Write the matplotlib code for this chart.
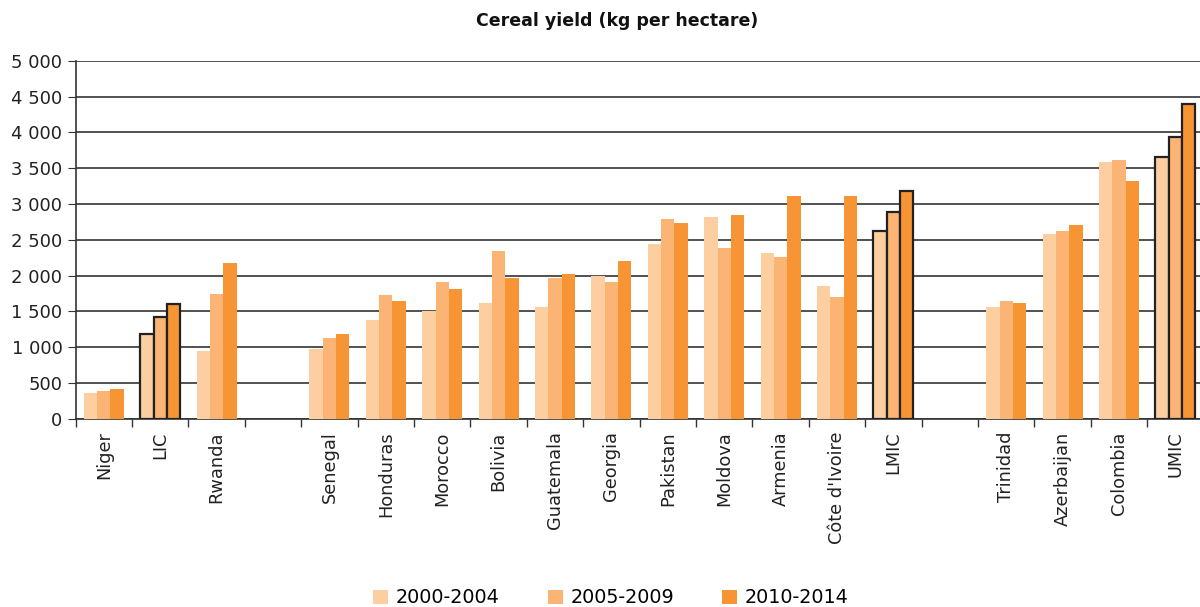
import matplotlib.pyplot as plt
from matplotlib.ticker import FuncFormatter
import numpy as np

# categories ("" = empty slot between the groups)
pays = ["Niger", "LIC", "Rwanda", "",
        "Senegal", "Honduras", "Morocco", "Bolivia", "Guatemala", "Georgia",
        "Pakistan", "Moldova", "Armenia", "Côte d'Ivoire", "LMIC", "",
        "Trinidad", "Azerbaijan", "Colombia", "UMIC"]
periodes = ["2000-2004", "2005-2009", "2010-2014"]

v_2000 = [360, 1183, 945, np.nan,
          978, 1383, 1508, 1620, 1564, 1997,
          2444, 2821, 2318, 1857, 2616, np.nan,
          1560, 2584, 3585, 3659]
v_2005 = [390, 1420, 1736, np.nan,
          1122, 1732, 1913, 2346, 1969, 1913,
          2793, 2388, 2263, 1704, 2891, np.nan,
          1644, 2616, 3608, 3939]
v_2010 = [415, 1602, 2174, np.nan,
          1178, 1648, 1816, 1969, 2025, 2207,
          2737, 2849, 3115, 3115, 3175, np.nan,
          1616, 2700, 3320, 4399]

groupes = ["LIC", "LMIC", "UMIC"]
couleurs = ["#fdcfa0", "#fbb474", "#f79433"]

fig = plt.figure(figsize=(12, 6.07), dpi=100)
ax = fig.add_axes([0.063, 0.31, 0.94, 0.59])

x = np.arange(len(pays))
larg = 0.237
series = [v_2000, v_2005, v_2010]
for k in range(3):
    vals = np.array(series[k], dtype=float)
    pos = x + (k - 1) * larg
    for i in range(len(pays)):
        if np.isnan(vals[i]):
            continue
        if pays[i] in groupes:
            ax.bar(pos[i], vals[i], width=larg, color=couleurs[k],
                   edgecolor="#222222", linewidth=1.6, zorder=3)
        else:
            ax.bar(pos[i], vals[i], width=larg, color=couleurs[k], zorder=3)
    ax.bar(0, 0, width=0, color=couleurs[k], label=periodes[k])

ax.set_xlim(-0.5, len(pays) - 0.5)
ax.set_ylim(0, 5000)
ax.set_yticks(np.arange(0, 5001, 500))
ax.yaxis.set_major_formatter(FuncFormatter(lambda v, p: f"{int(v):,}".replace(",", " ")))
ax.yaxis.grid(True, color="#333333", linewidth=1.2, zorder=0)

ax.set_xticks(x)
ax.set_xticklabels(pays, rotation=90, fontsize=12.8, color="#222222")
ax.tick_params(axis="x", which="major", length=0, pad=9)
ax.set_xticks(np.arange(-0.5, len(pays), 1), minor=True)
ax.tick_params(axis="x", which="minor", length=6, width=1, color="#333333")
ax.tick_params(axis="y", labelsize=13, labelcolor="#222222", length=6, color="#333333")

for s in ["top", "right"]:
    ax.spines[s].set_visible(False)
ax.spines["left"].set_color("#333333")
ax.spines["bottom"].set_color("#333333")
ax.spines["left"].set_linewidth(1.2)
ax.spines["bottom"].set_linewidth(1.2)

fig.text(0.514, 0.965, "Cereal yield (kg per hectare)", ha="center", va="center",
         fontsize=12.5, fontweight="bold", color="#111111")

fig.legend(loc="center", bbox_to_anchor=(0.509, 0.015), ncol=3, frameon=False,
           fontsize=13.8, handlelength=0.78, handleheight=0.78, columnspacing=2.5,
           handletextpad=0.4)

fig.savefig("out.png", dpi=100)
